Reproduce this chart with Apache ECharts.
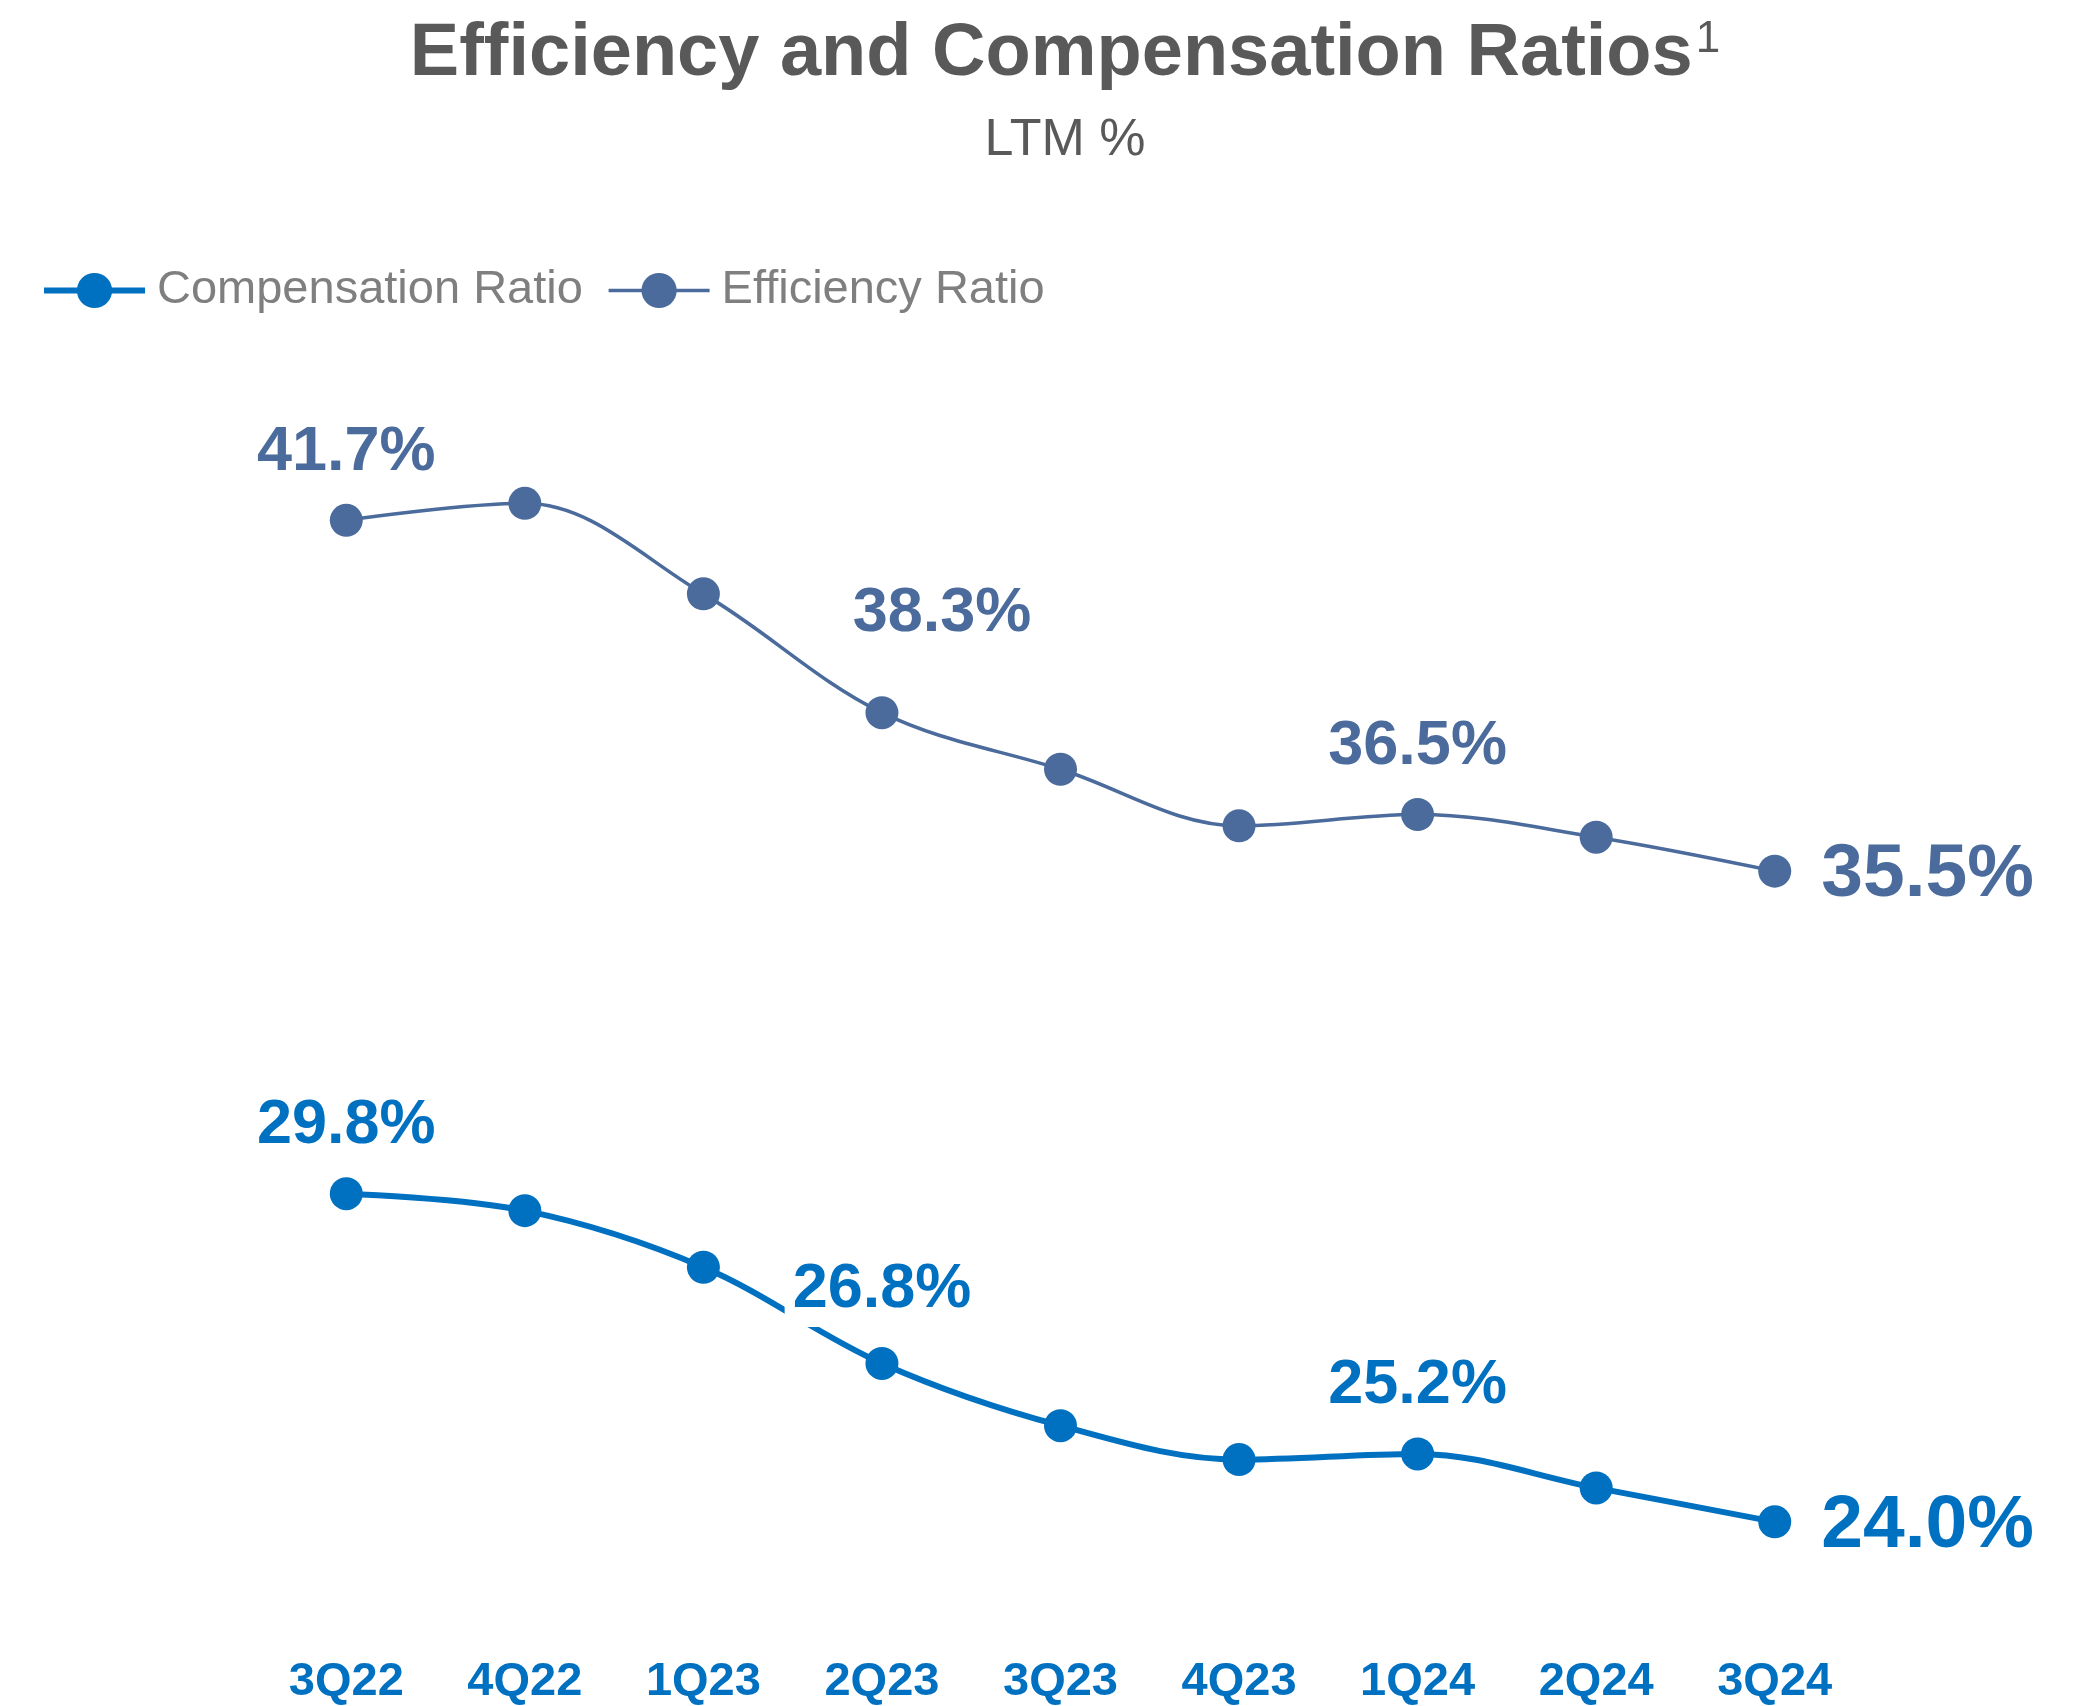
<!DOCTYPE html>
<html>
<head>
<meta charset="utf-8">
<title>Efficiency and Compensation Ratios</title>
<script src="https://cdn.jsdelivr.net/npm/echarts@6/dist/echarts.min.js"></script>
<style>
  html, body { margin: 0; padding: 0; background: #ffffff; }
  #chart { width: 2080px; height: 1706px; }
</style>
</head>
<body>
<div id="chart"></div>
<script>
// Quarter labels along the x axis
const categories = ['3Q22', '4Q22', '1Q23', '2Q23', '3Q23', '4Q23', '1Q24', '2Q24', '3Q24'];

// LTM ratios, in percent
const compensationRatio = [29.8, 29.5, 28.5, 26.8, 25.7, 25.1, 25.2, 24.6, 24.0];
const efficiencyRatio = [41.7, 42.0, 40.4, 38.3, 37.3, 36.3, 36.5, 36.1, 35.5];

// Points that carry a value label
const labeledPoints = [0, 3, 6, 8];

const COMP_COLOR = '#0070C0';
const EFF_COLOR = '#4A6B9C';
const FONT = 'Liberation Sans, Arial, sans-serif';

function pct(v) { return v.toFixed(1) + '%'; }

// Per-point label styling: last point labelled on the right in larger type
function buildData(values, color, overrides) {
  return values.map(function (v, i) {
    if (labeledPoints.indexOf(i) < 0) return v;
    const last = i === values.length - 1;
    const label = Object.assign({
      show: true,
      position: last ? 'right' : 'top',
      distance: last ? 30 : 20,
      offset: last ? [0, 4] : [0, 0],
      fontSize: last ? 75 : 63,
      fontWeight: 'bold',
      fontFamily: FONT,
      color: color,
      formatter: function (p) { return pct(p.value); }
    }, overrides[i] || {});
    return { value: v, label: label };
  });
}

const chart = echarts.init(document.getElementById('chart'), null, { renderer: 'canvas' });

chart.setOption({
  animation: false,
  backgroundColor: '#ffffff',
  title: {
    text: '{t|Efficiency and Compensation Ratios}{s|1}',
    subtext: 'LTM %',
    left: 1065,
    top: 18,
    textAlign: 'center',
    padding: 0,
    itemGap: 23,
    textStyle: {
      fontFamily: FONT, fontSize: 74, fontWeight: 'bold', color: '#595959',
      rich: {
        t: { fontFamily: FONT, fontSize: 74, fontWeight: 'bold', color: '#595959' },
        s: { fontFamily: FONT, fontSize: 44, fontWeight: 'normal', color: '#595959', verticalAlign: 'top', padding: [0, 0, 0, 3] }
      }
    },
    subtextStyle: { fontFamily: FONT, fontSize: 52, color: '#595959' }
  },
  legend: {
    left: 36,
    top: 262,
    itemWidth: 101,
    itemHeight: 44,
    itemGap: 24,
    textStyle: { fontFamily: FONT, fontSize: 47, color: '#7F7F7F', padding: [0, 0, 0, 7] },
    data: [
      { name: 'Compensation Ratio', lineStyle: { width: 6, color: COMP_COLOR } },
      { name: 'Efficiency Ratio', lineStyle: { width: 3.5, color: EFF_COLOR } }
    ]
  },
  grid: { left: 257, right: 216, top: 277, bottom: 67, containLabel: false },
  xAxis: {
    type: 'category',
    data: categories,
    boundaryGap: true,
    axisLine: { show: false },
    axisTick: { show: false },
    splitLine: { show: false },
    axisLabel: {
      margin: 24,
      fontFamily: FONT,
      fontSize: 47,
      fontWeight: 'bold',
      color: COMP_COLOR
    }
  },
  yAxis: {
    type: 'value',
    min: 22,
    max: 46,
    show: false
  },
  series: [
    {
      name: 'Compensation Ratio',
      type: 'line',
      smooth: 0.35,
      symbol: 'circle',
      symbolSize: 33,
      color: COMP_COLOR,
      lineStyle: { width: 6, color: COMP_COLOR },
      itemStyle: { color: COMP_COLOR },
      z: 3,
      data: buildData(compensationRatio, COMP_COLOR, {
        3: { backgroundColor: '#ffffff', padding: [0, 8, 6, 8] }
      })
    },
    {
      name: 'Efficiency Ratio',
      type: 'line',
      smooth: 0.35,
      symbol: 'circle',
      symbolSize: 33,
      color: EFF_COLOR,
      lineStyle: { width: 3.5, color: EFF_COLOR },
      itemStyle: { color: EFF_COLOR },
      z: 2,
      data: buildData(efficiencyRatio, EFF_COLOR, {
        3: { offset: [60, -31] }
      })
    }
  ]
});
</script>
</body>
</html>
